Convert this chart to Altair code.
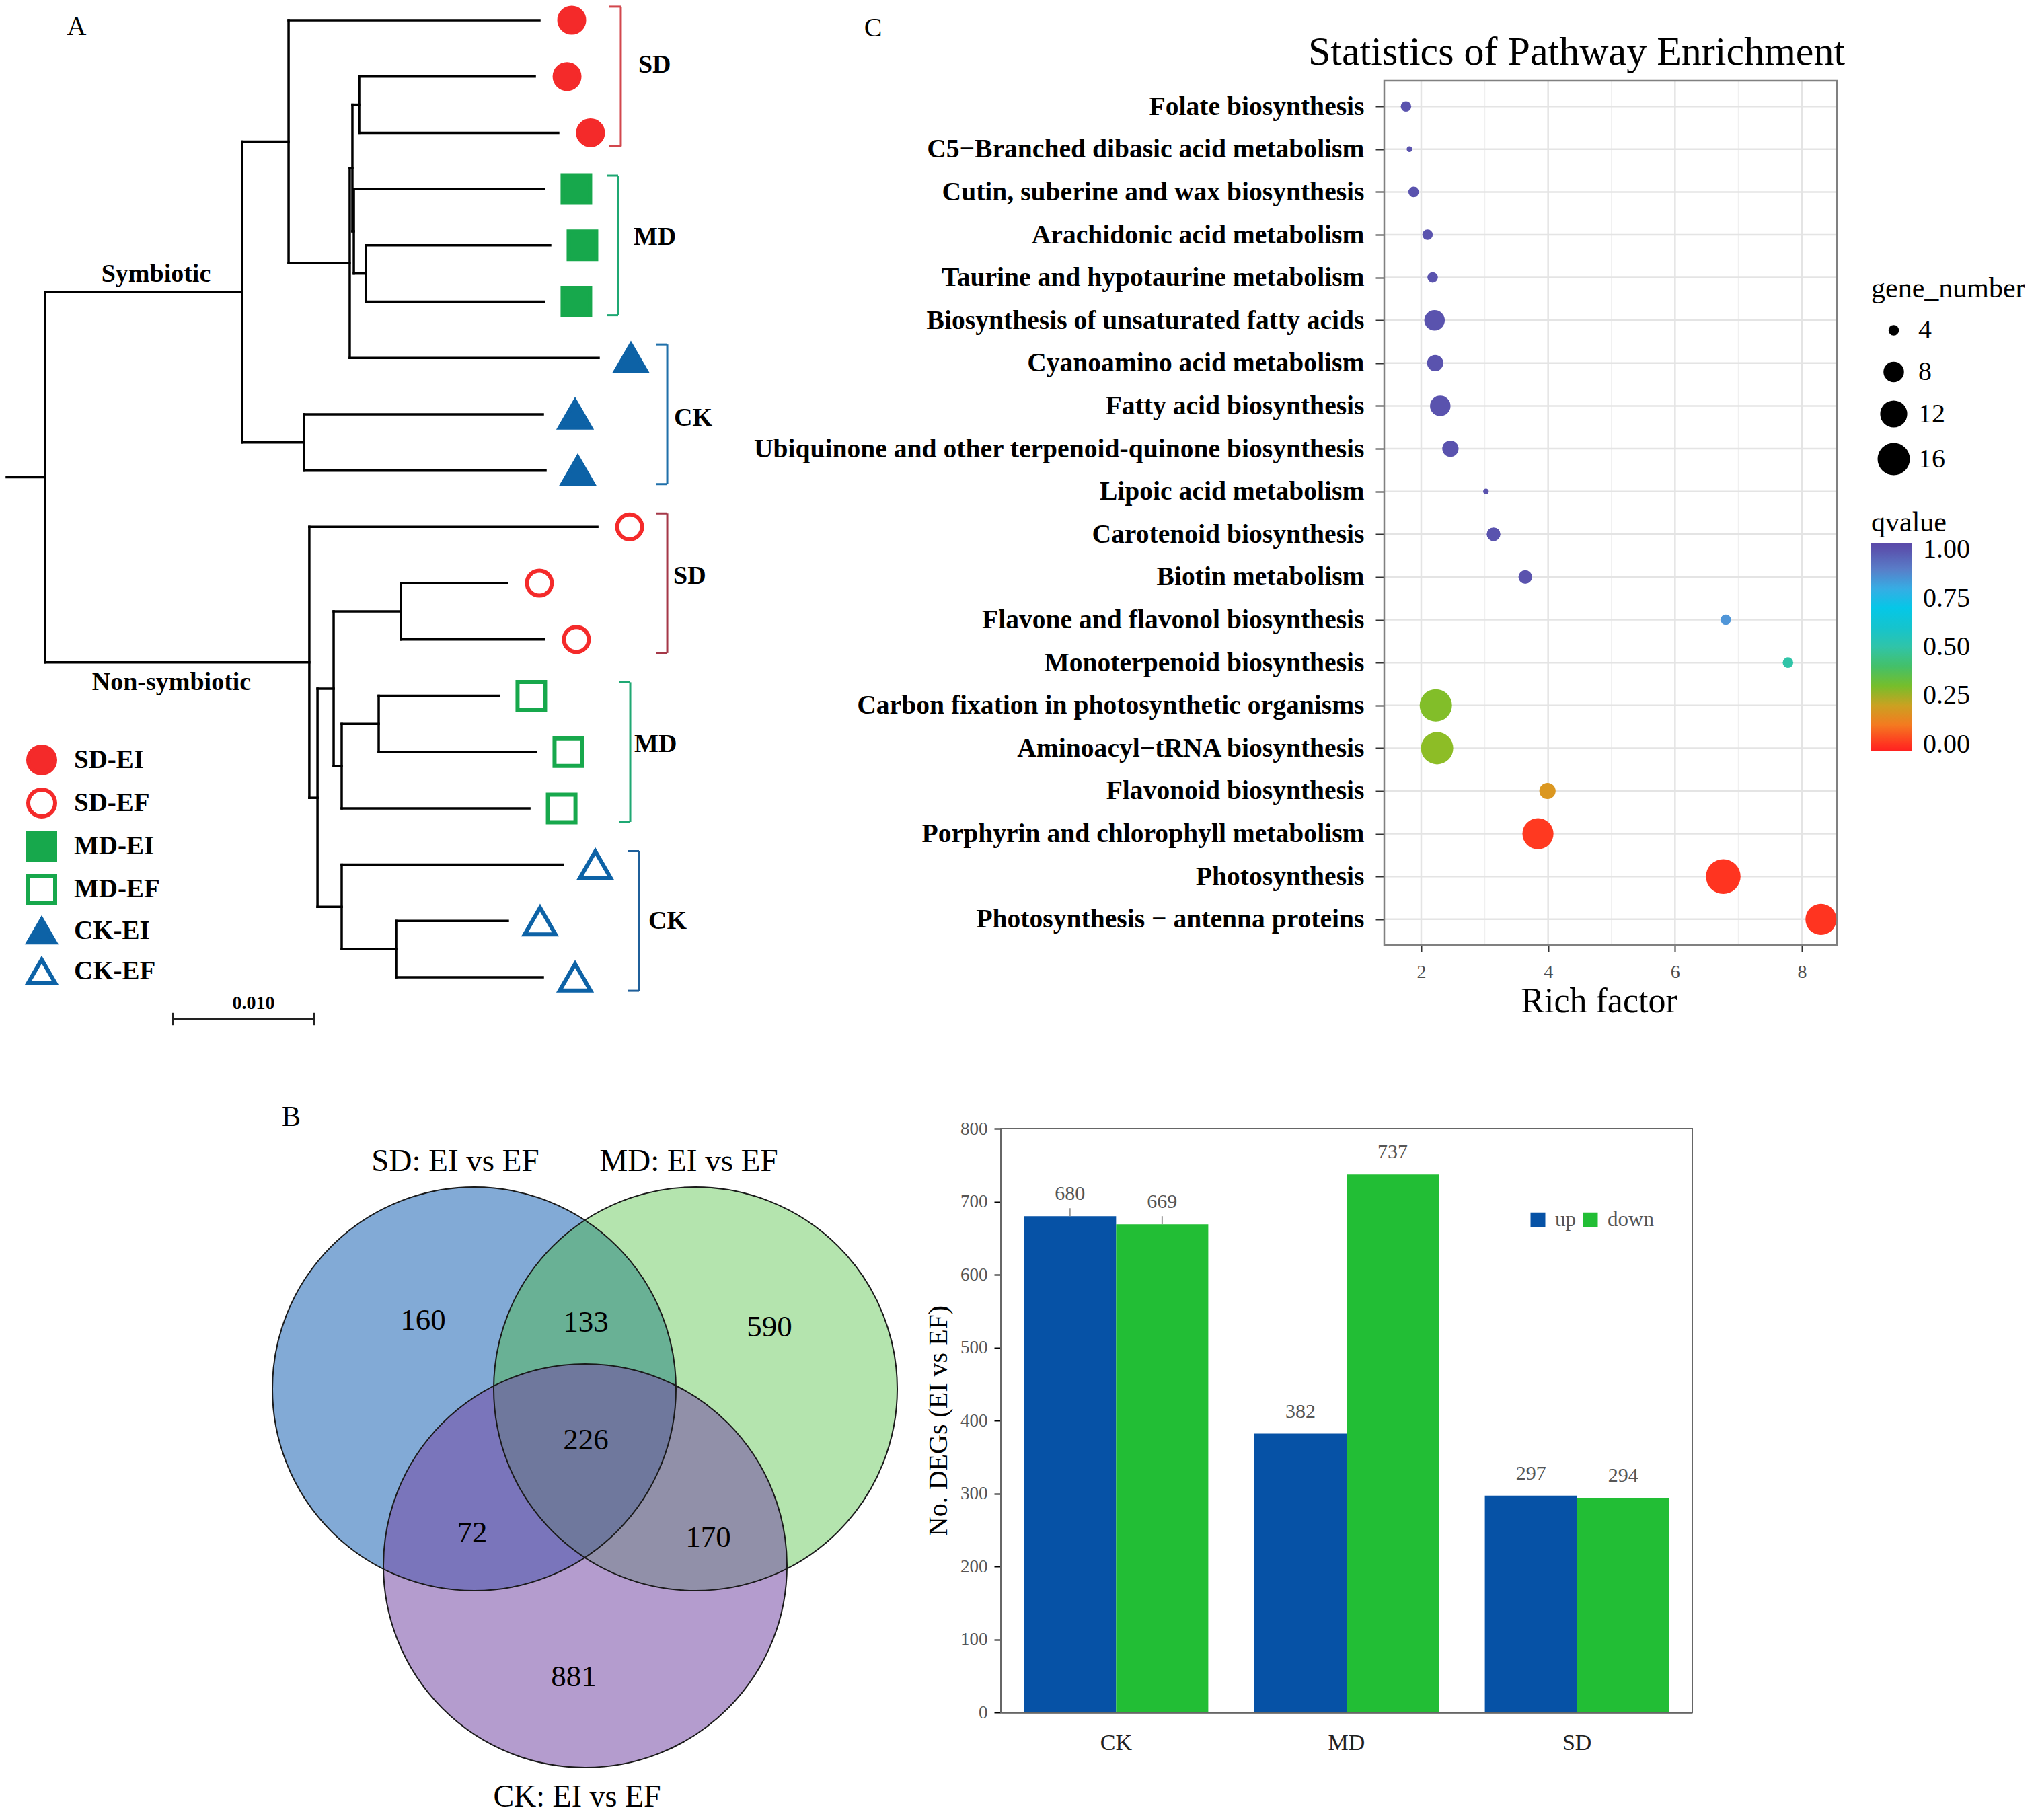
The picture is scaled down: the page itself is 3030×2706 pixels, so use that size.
import json
import altair as alt
import pandas as pd

W, H = 3014, 2690
SERIF = "Liberation Serif"

# ============================ DATA ============================
# ---- Panel A: clustering tree ----
samples = ["SD-EI", "SD-EF", "MD-EI", "MD-EF", "CK-EI", "CK-EF"]
leaf_sample = ["SD-EI", "SD-EI", "SD-EI", "MD-EI", "MD-EI", "MD-EI", "CK-EI", "CK-EI", "CK-EI",
               "SD-EF", "SD-EF", "SD-EF", "MD-EF", "MD-EF", "MD-EF", "CK-EF", "CK-EF", "CK-EF"]
leaf_depth = [0.03500, 0.03467, 0.03633, 0.03533, 0.03576, 0.03533, 0.03919, 0.03524, 0.03543,
              0.03910, 0.03271, 0.03533, 0.03214, 0.03476, 0.03429, 0.03667, 0.03276, 0.03524]
node_depth = {"root": 0.0, "S": 0.01395, "U": 0.01724, "N1": 0.02157, "N2": 0.02176,
              "N3": 0.02224, "N4": 0.02186, "N5": 0.02271, "CKp": 0.01833,
              "NS": 0.01871, "M": 0.01929, "P": 0.02043, "SDp": 0.02519, "MDn": 0.02100,
              "MDp": 0.02362, "CKn": 0.02100, "CKp2": 0.02486}
node_children = {"root": ["S", "NS"], "S": ["U", "CKp"], "U": [0, "N1"], "N1": ["N2", 6],
                 "N2": ["N3", "N4"], "N3": [1, 2], "N4": [3, "N5"], "N5": [4, 5], "CKp": [7, 8],
                 "NS": [9, "M"], "M": ["P", "CKn"], "P": ["SDp", "MDn"], "SDp": [10, 11],
                 "MDn": ["MDp", 14], "MDp": [12, 13], "CKn": [15, "CKp2"], "CKp2": [16, 17]}
clade_names = ["Symbiotic", "Non-symbiotic"]
bracket_group = ["SD", "MD", "CK", "SD", "MD", "CK"]
bracket_first = [0, 3, 6, 9, 12, 15]
bracket_last = [2, 5, 8, 11, 14, 17]
scale_bar_length = 0.010
scale_bar_label = "0.010"

# ---- Panel B: Venn diagram ----
venn_sets = ["SD: EI vs EF", "MD: EI vs EF", "CK: EI vs EF"]
venn_regions = ["SD", "SD&MD", "MD", "SD&MD&CK", "SD&CK", "MD&CK", "CK"]
venn_counts = [160, 133, 590, 226, 72, 170, 881]

# ---- Panel B: DEG bar chart ----
deg_groups = ["CK", "MD", "SD"]
deg_dirs = ["up", "down"]
deg_up = [680, 382, 297]
deg_down = [669, 737, 294]
deg_up_err = [11, 0, 0]
deg_down_err = [11, 0, 0]

# ---- Panel C: KEGG enrichment ----
pathways = ["Folate biosynthesis", "C5\u2212Branched dibasic acid metabolism",
            "Cutin, suberine and wax biosynthesis", "Arachidonic acid metabolism",
            "Taurine and hypotaurine metabolism", "Biosynthesis of unsaturated fatty acids",
            "Cyanoamino acid metabolism", "Fatty acid biosynthesis",
            "Ubiquinone and other terpenoid-quinone biosynthesis", "Lipoic acid metabolism",
            "Carotenoid biosynthesis", "Biotin metabolism", "Flavone and flavonol biosynthesis",
            "Monoterpenoid biosynthesis", "Carbon fixation in photosynthetic organisms",
            "Aminoacyl\u2212tRNA biosynthesis", "Flavonoid biosynthesis",
            "Porphyrin and chlorophyll metabolism", "Photosynthesis",
            "Photosynthesis \u2212 antenna proteins"]
rich_factor = [1.76, 1.815, 1.88, 2.10, 2.18, 2.21, 2.22, 2.30, 2.46, 3.02,
               3.14, 3.64, 6.80, 7.78, 2.23, 2.25, 3.99, 3.84, 6.76, 8.30]
gene_number = [4, 3, 4, 4, 4, 8, 6, 8, 6, 3, 5, 5, 4, 4, 16, 16, 6, 15, 18, 15]
qvalue = [1.0, 1.0, 1.0, 1.0, 1.0, 1.0, 1.0, 1.0, 1.0, 1.0,
          1.0, 1.0, 0.85, 0.50, 0.29, 0.28, 0.17, 0.01, 0.0, 0.0]
size_breaks = [4, 8, 12, 16]
q_breaks = [0.0, 0.25, 0.5, 0.75, 1.0]

# ============================ STYLE / LAYOUT ============================
RED, GREEN, BLUE = "#F42A2A", "#17A84C", "#0D62A6"
sample_shape = ["circle", "circle", "square", "square", "triangle-up", "triangle-up"]
sample_fill = [RED, "white", GREEN, "white", BLUE, "white"]
sample_stroke = [RED, RED, GREEN, GREEN, BLUE, BLUE]
shape_area = {"circle": 1369, "square": 1681, "triangle-up": 2100}
bracket_color = ["#D2474D", "#1FA873", "#2070AA", "#A53848", "#1FA873", "#1F5F9A"]
bracket_x = [0.04076, 0.04057, 0.04405, 0.04405, 0.04143, 0.04205]
bracket_label_dx = [26, 23, 10, 9, 6, 14]
bracket_label_dy = [-17, -12, 6, -10, -11, 1]

TX_DOM, TX_RNG = [0.0, 0.04], [59, 899]
TY_DOM, TY_RNG = [0, 17], [22, 1445]
PPU_X = (TX_RNG[1] - TX_RNG[0]) / (TX_DOM[1] - TX_DOM[0])
PPU_Y = (TY_RNG[1] - TY_RNG[0]) / (TY_DOM[1] - TY_DOM[0])

# colour bar slightly extends past the 0 / 1 breaks (as a ggplot colourbar does)
q_stops = [-0.035, 0.05, 0.10, 0.16, 0.22, 0.27, 0.32, 0.40, 0.50, 0.62, 0.74, 0.82, 0.88, 0.94, 1.035]
q_colors = ["#FF2020", "#FF5020", "#F47A20", "#E09420", "#C0A822", "#98BC24", "#60C030", "#44C068",
            "#30C4A8", "#10C4D4", "#00C8F0", "#48A4E0", "#5888D0", "#5A66B8", "#5A48A8"]

BX_DOM, BX_RNG = [1.417, 8.551], [2050, 2723]
BY_DOM, BY_RNG = [-0.6, 19.6], [112, 1397]

VENN_D = 600
venn_cx = [697, 1026, 862]
venn_cy = [2057, 2057, 2320]
venn_fill = ["#2F71BB", "#43BB34", "#7448A4"]
venn_op = [0.6, 0.4, 0.54]
venn_set_xy = [(669, 1719), (1016, 1719), (850, 2664)]
venn_set_fs = [47, 47, 46]
venn_count_xy = [(621, 1955), (863, 1958), (1136, 1965), (863, 2133), (694, 2271), (1045, 2278), (845, 2485)]

BAR_X_RNG = [1480, 2508]
BAR_Y_RNG = [2538, 1670]
BAR_COLORS = ["#0652A6", "#22BE35"]
BAR_PAD_INNER, BAR_PAD_OUTER = 0.2, 0.1

TX = alt.Scale(domain=TX_DOM, range=TX_RNG, zero=False, nice=False)
TY = alt.Scale(domain=TY_DOM, range=TY_RNG, zero=False, nice=False)
CX = alt.Scale(domain=[0, W], range=[0, W], zero=False, nice=False)
CY = alt.Scale(domain=[0, H], range=[0, H], zero=False, nice=False)
BX = alt.Scale(domain=BX_DOM, range=BX_RNG, zero=False, nice=False)
BY = alt.Scale(domain=BY_DOM, range=BY_RNG, zero=False, nice=False)

layers = []

# ============================ PANEL A ============================
pos = {}


def place(n):
    if isinstance(n, int):
        pos[n] = (leaf_depth[n], float(n))
        return pos[n]
    ys = [place(c)[1] for c in node_children[n]]
    pos[n] = (node_depth[n], (min(ys) + max(ys)) / 2.0)
    return pos[n]


place("root")

seg = []
for n, ch in node_children.items():
    d = pos[n][0]
    ys = [pos[c][1] for c in ch]
    seg.append(dict(x=d, x2=d, y=min(ys), y2=max(ys)))
    for c in ch:
        cd, cy = pos[c]
        seg.append(dict(x=d, x2=cd, y=cy, y2=cy))
ry = pos["root"][1]
seg.append(dict(x=-57 / PPU_X, x2=0.0, y=ry, y2=ry))

layers.append(alt.Chart(pd.DataFrame(seg)).mark_rule(color="black", strokeWidth=3.5, strokeCap="square").encode(
    x=alt.X("x:Q", scale=TX, axis=None), x2="x2:Q",
    y=alt.Y("y:Q", scale=TY, axis=None), y2="y2:Q"))

# brackets
br = []
for i in range(6):
    bx = bracket_x[i]
    y0, y1 = bracket_first[i] - 0.24, bracket_last[i] + 0.24
    t = 17 / PPU_X
    br += [dict(x=bx, x2=bx, y=y0, y2=y1, col=bracket_color[i]),
           dict(x=bx - t, x2=bx, y=y0, y2=y0, col=bracket_color[i]),
           dict(x=bx - t, x2=bx, y=y1, y2=y1, col=bracket_color[i])]
layers.append(alt.Chart(pd.DataFrame(br)).mark_rule(strokeWidth=3).encode(
    x=alt.X("x:Q", scale=TX, axis=None), x2="x2:Q",
    y=alt.Y("y:Q", scale=TY, axis=None), y2="y2:Q",
    color=alt.Color("col:N", scale=None)))

# bold texts of the tree
tt = []
for i in range(6):
    tt.append(dict(t=bracket_group[i], x=bracket_x[i] + bracket_label_dx[i] / PPU_X,
                   y=(bracket_first[i] + bracket_last[i]) / 2 + bracket_label_dy[i] / PPU_Y, fs=38, al="left"))
tt.append(dict(t=clade_names[0], x=165 / PPU_X, y=pos["S"][1] - 26 / PPU_Y, fs=38, al="center"))
tt.append(dict(t=clade_names[1], x=188 / PPU_X, y=pos["NS"][1] + 30 / PPU_Y, fs=38, al="center"))
sb0 = 190 / PPU_X
sby = 17 + 62 / PPU_Y
tt.append(dict(t=scale_bar_label, x=sb0 + scale_bar_length / 2 + 15 / PPU_X, y=sby - 23 / PPU_Y, fs=28, al="center"))
tt_df = pd.DataFrame(tt)
for al in ["left", "center"]:
    layers.append(alt.Chart(tt_df[tt_df.al == al]).mark_text(
        font=SERIF, fontWeight="bold", align=al, baseline="middle", color="black").encode(
        x=alt.X("x:Q", scale=TX, axis=None), y=alt.Y("y:Q", scale=TY, axis=None),
        text="t:N", size=alt.Size("fs:Q", scale=None)))

# scale bar
tk = 0.11
sb = pd.DataFrame([dict(x=sb0, x2=sb0 + scale_bar_length, y=sby, y2=sby),
                   dict(x=sb0, x2=sb0, y=sby - tk, y2=sby + tk),
                   dict(x=sb0 + scale_bar_length, x2=sb0 + scale_bar_length, y=sby - tk, y2=sby + tk)])
layers.append(alt.Chart(sb).mark_rule(color="#222", strokeWidth=2.5).encode(
    x=alt.X("x:Q", scale=TX, axis=None), x2="x2:Q",
    y=alt.Y("y:Q", scale=TY, axis=None), y2="y2:Q"))

# tip symbols + legend
leaf_df = pd.DataFrame({"depth": leaf_depth, "idx": list(range(18)), "sample": leaf_sample})
shape_of = dict(zip(samples, sample_shape))
leaf_df["sz"] = [shape_area[shape_of[s]] for s in leaf_sample]
leg_tree = dict(title=None, orient="none", legendX=31, legendY=1099, labelFont=SERIF,
                labelFontSize=39, labelFontWeight="bold", labelColor="black",
                symbolStrokeWidth=6, symbolSize=1600, rowPadding=0, labelOffset=25, padding=0)
layers.append(alt.Chart(leaf_df).mark_point(filled=False, opacity=1, strokeWidth=6, xOffset=48).encode(
    x=alt.X("depth:Q", scale=TX, axis=None),
    y=alt.Y("idx:Q", scale=TY, axis=None),
    shape=alt.Shape("sample:N", scale=alt.Scale(domain=samples, range=sample_shape), legend=alt.Legend(**leg_tree)),
    fill=alt.Fill("sample:N", scale=alt.Scale(domain=samples, range=sample_fill), legend=alt.Legend(**leg_tree)),
    stroke=alt.Stroke("sample:N", scale=alt.Scale(domain=samples, range=sample_stroke), legend=alt.Legend(**leg_tree)),
    size=alt.Size("sz:Q", scale=None)))

# ============================ PANEL B : Venn ============================
vdf = pd.DataFrame({"x": venn_cx, "y": venn_cy, "col": venn_fill, "op": venn_op, "set": venn_sets})
layers.append(alt.Chart(vdf).mark_point(shape="circle", filled=True, size=VENN_D ** 2, strokeWidth=0, opacity=1).encode(
    x=alt.X("x:Q", scale=CX, axis=None), y=alt.Y("y:Q", scale=CY, axis=None),
    fill=alt.Fill("col:N", scale=None), fillOpacity=alt.FillOpacity("op:Q", scale=None)))
layers.append(alt.Chart(vdf).mark_point(shape="circle", filled=False, size=VENN_D ** 2, stroke="#1a1a1a",
                                        strokeWidth=2, opacity=1).encode(
    x=alt.X("x:Q", scale=CX, axis=None), y=alt.Y("y:Q", scale=CY, axis=None)))

ct = [dict(t="A", x=106, y=32, fs=40), dict(t="C", x=1290, y=34, fs=40), dict(t="B", x=425, y=1653, fs=42),
      dict(t="Statistics of Pathway Enrichment", x=2336, y=70, fs=60)]
for s, (x, y), f in zip(venn_sets, venn_set_xy, venn_set_fs):
    ct.append(dict(t=s, x=x, y=y, fs=f))
for c, (x, y) in zip(venn_counts, venn_count_xy):
    ct.append(dict(t=str(c), x=x, y=y, fs=45))
layers.append(alt.Chart(pd.DataFrame(ct)).mark_text(font=SERIF, align="center", baseline="middle", color="black").encode(
    x=alt.X("x:Q", scale=CX, axis=None), y=alt.Y("y:Q", scale=CY, axis=None),
    text="t:N", size=alt.Size("fs:Q", scale=None)))

# ============================ PANEL C ============================
grid = []
for v in [2, 3, 4, 5, 6, 7, 8]:
    major = v % 2 == 0
    grid.append(dict(x=v, x2=v, y=BY_DOM[0], y2=BY_DOM[1], col="#E4E4E4" if major else "#F0F0F0",
                     w=2.5 if major else 1.8))
for i in range(len(pathways)):
    grid.append(dict(x=BX_DOM[0], x2=BX_DOM[1], y=i, y2=i, col="#E4E4E4", w=2.5))
layers.append(alt.Chart(pd.DataFrame(grid)).mark_rule().encode(
    x=alt.X("x:Q", scale=BX, axis=None), x2="x2:Q",
    y=alt.Y("y:Q", scale=BY, axis=None), y2="y2:Q",
    color=alt.Color("col:N", scale=None), strokeWidth=alt.StrokeWidth("w:Q", scale=None)))
layers.append(alt.Chart(pd.DataFrame([dict(x=BX_DOM[0], x2=BX_DOM[1], y=BY_DOM[0], y2=BY_DOM[1])])).mark_rect(
    filled=False, stroke="#808080", strokeWidth=2.5).encode(
    x=alt.X("x:Q", scale=BX, axis=None), x2="x2:Q",
    y=alt.Y("y:Q", scale=BY, axis=None), y2="y2:Q"))

kdf = pd.DataFrame({"pathway": pathways, "idx": list(range(len(pathways))), "rich": rich_factor,
                    "gene_number": gene_number, "qvalue": qvalue})
label_expr = json.dumps(pathways, ensure_ascii=False) + "[datum.value]"
layers.append(alt.Chart(kdf).mark_circle(opacity=1).encode(
    x=alt.X("rich:Q", scale=BX, axis=alt.Axis(
        orient="bottom", offset=-(H - BY_RNG[1]), values=[2, 4, 6, 8], labelFont=SERIF, labelFontSize=28,
        labelColor="#4d4d4d", tickSize=10, tickColor="#333", tickWidth=2, labelPadding=16, domain=False,
        grid=False, labelFlush=False, title="Rich factor", titleFont=SERIF, titleFontSize=52,
        titleFontWeight="normal", titleColor="black", titlePadding=4, titleX=2369)),
    y=alt.Y("idx:Q", scale=BY, axis=alt.Axis(
        orient="left", offset=-BX_RNG[0], values=list(range(len(pathways))), labelExpr=label_expr,
        labelFont=SERIF, labelFontSize=39.6, labelFontWeight="bold", labelColor="black", labelPadding=17,
        labelLimit=3000, labelOverlap=False, labelFlush=False, tickSize=13, tickColor="#333",
        tickWidth=2, domain=False, grid=False, title=None)),
    size=alt.Size("gene_number:Q", scale=alt.Scale(domain=[3, 18], range=[70, 2650]), legend=alt.Legend(
        title="gene_number", orient="none", legendX=2774, legendY=401, values=size_breaks,
        titleFont=SERIF, titleFontSize=42, titleFontWeight="normal", titleColor="black", titleLimit=1000,
        labelFont=SERIF, labelFontSize=40, labelColor="black", symbolFillColor="black",
        symbolStrokeWidth=0, symbolType="circle", symbolOffset=9, labelOffset=12, rowPadding=22,
        titlePadding=20, padding=0, symbolOpacity=1)),
    color=alt.Color("qvalue:Q", scale=alt.Scale(domain=q_stops, range=q_colors, interpolate="rgb"),
                    legend=alt.Legend(
        title="qvalue", orient="none", legendX=2774, legendY=749, direction="vertical",
        gradientLength=310, gradientThickness=61, values=q_breaks, format=".2f",
        titleFont=SERIF, titleFontSize=42, titleFontWeight="normal", titleColor="black",
        labelFont=SERIF, labelFontSize=40, labelColor="black", labelOffset=16, titlePadding=8,
        padding=0, gradientStrokeWidth=0))))

# ============================ PANEL B : bars ============================
bdf = pd.DataFrame({
    "grp": deg_groups * 2,
    "dir": ["up"] * 3 + ["down"] * 3,
    "val": deg_up + deg_down,
    "err": deg_up_err + deg_down_err})
bdf["top"] = bdf["val"] + bdf["err"]
half_q = (1 - BAR_PAD_INNER) / 4
bdf["xc"] = [deg_groups.index(g) + (-half_q if d == "up" else half_q) for g, d in zip(bdf.grp, bdf.dir)]
BXB = alt.Scale(domain=deg_groups, range=BAR_X_RNG, paddingInner=BAR_PAD_INNER, paddingOuter=BAR_PAD_OUTER)
BXN = alt.Scale(domain=[-0.5, len(deg_groups) - 0.5], range=BAR_X_RNG, zero=False, nice=False)
BYB = alt.Scale(domain=[0, 800], range=BAR_Y_RNG, zero=True, nice=False)
XO = alt.Scale(domain=deg_dirs, paddingInner=0, paddingOuter=0)

layers.append(alt.Chart(pd.DataFrame([dict(x=-0.5, x2=len(deg_groups) - 0.5, y=0, y2=800)])).mark_rect(
    filled=False, stroke="#666", strokeWidth=2).encode(
    x=alt.X("x:Q", scale=BXN, axis=None), x2="x2:Q",
    y=alt.Y("y:Q", scale=BYB, axis=None), y2="y2:Q"))

layers.append(alt.Chart(bdf).mark_bar().encode(
    x=alt.X("grp:N", scale=BXB, axis=alt.Axis(
        orient="bottom", offset=-(H - BAR_Y_RNG[0]), labelAngle=0, labelFont=SERIF, labelFontSize=34,
        labelColor="#222", ticks=False, tickSize=0, labelPadding=28, domainColor="black", domainWidth=2,
        grid=False, title=None)),
    xOffset=alt.XOffset("dir:N", scale=XO),
    y=alt.Y("val:Q", scale=BYB, axis=alt.Axis(
        orient="left", offset=-BAR_X_RNG[0], values=list(range(0, 801, 100)), labelFont=SERIF,
        labelFontSize=27, labelColor="#555", tickSize=10, tickColor="black", tickWidth=2,
        labelPadding=10, domainColor="black", domainWidth=2, grid=False, labelFlush=False,
        title="No. DEGs (EI vs EF)", titleFont=SERIF, titleFontSize=40, titleFontWeight="normal",
        titleColor="black", titlePadding=12)),
    color=alt.Color("dir:N", scale=alt.Scale(domain=deg_dirs, range=BAR_COLORS), legend=alt.Legend(
        title=None, orient="none", direction="horizontal", legendX=2263, legendY=1790,
        symbolType="square", symbolSize=484, symbolStrokeWidth=0, labelFont=SERIF, labelFontSize=31,
        labelColor="#555", labelOffset=10, columnPadding=6, padding=0))))

layers.append(alt.Chart(bdf).transform_filter("datum.err > 0").mark_rule(color="#9a9a9a", strokeWidth=2).encode(
    x=alt.X("xc:Q", scale=BXN, axis=None),
    y=alt.Y("val:Q", scale=BYB, axis=None), y2="top:Q"))

layers.append(alt.Chart(bdf).mark_text(font=SERIF, fontSize=30, color="#555", baseline="middle", dy=-33).encode(
    x=alt.X("xc:Q", scale=BXN, axis=None),
    y=alt.Y("val:Q", scale=BYB, axis=None), text="val:Q"))

# ============================ ASSEMBLE ============================
chart = alt.layer(*layers).properties(
    width=W, height=H, padding=0, autosize=alt.AutoSizeParams(type="none"), background="white"
).resolve_scale(
    x="independent", y="independent", color="independent", fill="independent", stroke="independent",
    shape="independent", size="independent", fillOpacity="independent", strokeWidth="independent",
    xOffset="independent"
).resolve_axis(x="independent", y="independent").resolve_legend(
    color="independent", size="independent", fill="independent", stroke="independent", shape="independent"
).configure(font=SERIF).configure_view(stroke=None)

chart.save("out.html", embed_options={"renderer": "svg", "actions": False})
